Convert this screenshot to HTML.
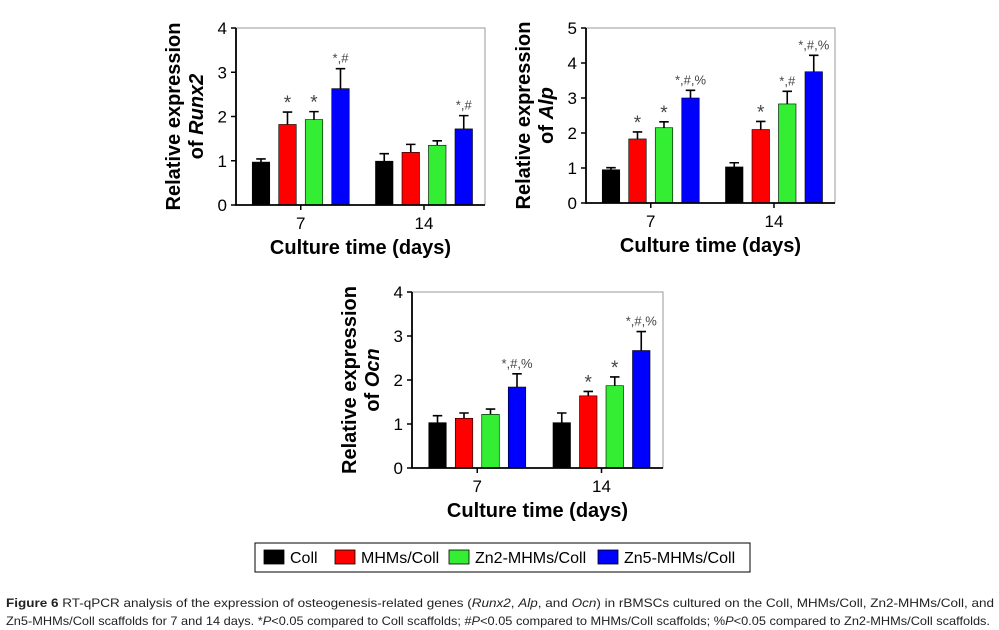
<!DOCTYPE html>
<html><head><meta charset="utf-8"><style>
body{margin:0;background:#fff;width:999px;height:630px;overflow:hidden;font-family:"Liberation Sans",Arial,sans-serif}
svg{position:absolute;left:0;top:0}
</style></head><body>
<svg id="fig" width="999" height="630" xmlns="http://www.w3.org/2000/svg">
<text x="6" y="607" font-size="12" fill="#222" textLength="988" lengthAdjust="spacingAndGlyphs"><tspan font-weight="bold">Figure 6</tspan> RT-qPCR analysis of the expression of osteogenesis-related genes (<tspan font-style="italic">Runx2</tspan>, <tspan font-style="italic">Alp</tspan>, and <tspan font-style="italic">Ocn</tspan>) in rBMSCs cultured on the Coll, MHMs/Coll, Zn2-MHMs/Coll, and</text>
<text x="6" y="625" font-size="12" fill="#222" textLength="984" lengthAdjust="spacingAndGlyphs">Zn5-MHMs/Coll scaffolds for 7 and 14 days. *<tspan font-style="italic">P</tspan>&lt;0.05 compared to Coll scaffolds; #<tspan font-style="italic">P</tspan>&lt;0.05 compared to MHMs/Coll scaffolds; %<tspan font-style="italic">P</tspan>&lt;0.05 compared to Zn2-MHMs/Coll scaffolds.</text>
</svg>
<script>
const categories=["7","14"];
const seriesNames=["Coll","MHMs/Coll","Zn2-MHMs/Coll","Zn5-MHMs/Coll"];
const colors=["#000000","#ff0000","#33ee33","#0000ff"];
const runx2Values=[[0.97,1.82,1.93,2.63],[0.99,1.19,1.35,1.72]];
const runx2Errors=[[0.07,0.28,0.18,0.45],[0.17,0.18,0.10,0.30]];
const runx2Marks=[["","*","*","*,#"],["","","","*,#"]];
const alpValues=[[0.95,1.83,2.15,3.00],[1.03,2.10,2.83,3.75]];
const alpErrors=[[0.06,0.20,0.17,0.22],[0.12,0.23,0.36,0.47]];
const alpMarks=[["","*","*","*,#,%"],["","*","*,#","*,#,%"]];
const ocnValues=[[1.03,1.13,1.22,1.84],[1.03,1.64,1.87,2.67]];
const ocnErrors=[[0.16,0.12,0.12,0.30],[0.22,0.10,0.20,0.43]];
const ocnMarks=[["","","","*,#,%"],["","*","*","*,#,%"]];
const runx2Ticks=[0,1,2,3,4];
const alpTicks=[0,1,2,3,4,5];
const ocnTicks=[0,1,2,3,4];

const NS="http://www.w3.org/2000/svg";
const svg=document.getElementById('fig');
function mk(tag,attrs,parent,text){const e=document.createElementNS(NS,tag);for(const k in attrs)e.setAttribute(k,attrs[k]);if(text!==undefined)e.textContent=text;(parent||svg).appendChild(e);return e;}

function chart(name,gene,L,R,T,B,ticks,vals,errs,marks){
  const g=mk('g',{});
  
  
  const ymax=ticks[ticks.length-1];
  const y=v=>B-(v/ymax)*(B-T);
  const w=R-L;
  const cx=i=>L+w*(0.26+0.495*i);
  const fr=mk('path',{d:`M${L} ${T}H${R}V${B}`,stroke:'#999',fill:'none','stroke-width':1},g);
  
  categories.forEach((c,i)=>{
    vals[i].forEach((v,j)=>{
      const x=cx(i)+(j-1.5)*26.5-8.75;
      const e=errs[i][j];
      const eb=mk('path',{d:`M${x+8.75} ${y(v)}V${y(v+e)}M${x+4} ${y(v+e)}H${x+13.5}`,stroke:'#000','stroke-width':1.6,fill:'none'},g);
      
      const r=mk('rect',{x:x,y:y(v),width:17.5,height:B-y(v),fill:colors[j],stroke:'#000','stroke-width':0.6},g);
      
      
      if(marks[i][j]){
        const sm=marks[i][j].length>1;
        const t=mk('text',{x:x+8.75,y:y(v+e)-(sm?6:3),'text-anchor':'middle','font-size':sm?13:19,fill:'#444'},g,marks[i][j]);
        
      }
    });
    const tk=mk('path',{d:`M${cx(i)} ${B}v5`,stroke:'#000','stroke-width':1.5},g);
    
    const tl=mk('text',{x:cx(i),y:B+24,'text-anchor':'middle','font-size':17},g,c);
    
  });
  ticks.forEach(t=>{
    const tk=mk('path',{d:`M${L-5} ${y(t)}H${L}`,stroke:'#000','stroke-width':1.5},g);
    
    const tl=mk('text',{x:L-9,y:y(t)+6,'text-anchor':'end','font-size':17},g,String(t));
    
  });
  const ax=mk('path',{d:`M${L} ${T}V${B}H${R}`,stroke:'#000','stroke-width':1.8,fill:'none'},g);
  
  const xt=mk('text',{x:(L+R)/2,y:B+49,'text-anchor':'middle','font-size':20,'font-weight':'bold'},g,'Culture time (days)');
  
  const yc=(T+B)/2;
  const yt=mk('text',{transform:`translate(${L-56},${yc}) rotate(-90)`,'text-anchor':'middle','font-size':20,'font-weight':'bold'},g);
  
  mk('tspan',{x:0,y:0},yt,'Relative expression');
  mk('tspan',{x:0,y:23},yt,'of ');
  mk('tspan',{'font-style':'italic'},yt,gene);
}
chart('runx2','Runx2',236,485,28,205,runx2Ticks,runx2Values,runx2Errors,runx2Marks);
chart('alp','Alp',586,835,28,203,alpTicks,alpValues,alpErrors,alpMarks);
chart('ocn','Ocn',412,663,292,468,ocnTicks,ocnValues,ocnErrors,ocnMarks);

const lg=mk('g',{});


const lb=mk('rect',{x:255,y:543,width:495,height:29,fill:'none',stroke:'#000','stroke-width':1},lg);

const lx=[264,335,449,598];
seriesNames.forEach((n,i)=>{
  const e=mk('g',{},lg);
  
  
  mk('rect',{x:lx[i],y:550,width:20,height:14,fill:colors[i],stroke:'#000','stroke-width':0.8},e);
  mk('text',{x:lx[i]+26,y:563,'font-size':16},e,n);
});
</script>
</body></html>
